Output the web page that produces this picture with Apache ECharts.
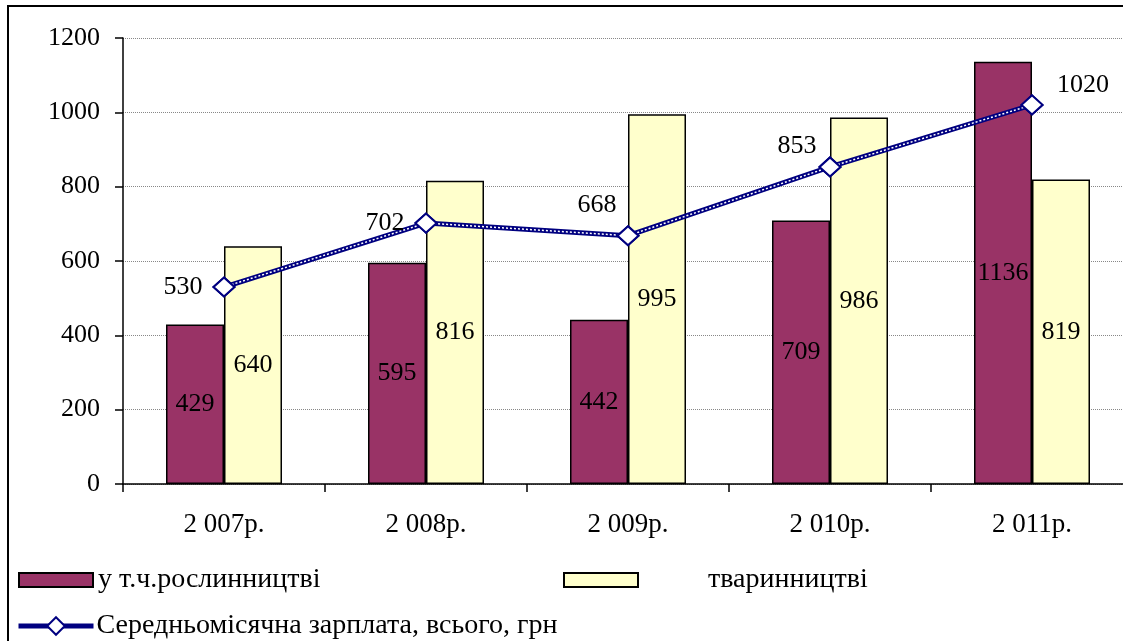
<!DOCTYPE html>
<html>
<head>
<meta charset="utf-8">
<script src="https://cdn.jsdelivr.net/npm/echarts@6/dist/echarts.min.js"></script>
<style>
  html, body { margin: 0; padding: 0; background: #fff; }
  #chart { width: 1123px; height: 641px; }
</style>
</head>
<body>
<div id="chart"></div>
<script>
const years = ['2 007р.', '2 008р.', '2 009р.', '2 010р.', '2 011р.']
const plantWage = [429, 595, 442, 709, 1136]
const animalWage = [640, 816, 995, 986, 819]
const totalWage = [530, 702, 668, 853, 1020]
const yTicks = [0, 200, 400, 600, 800, 1000, 1200]

const font = 'Liberation Serif'
const fs = 26
const navy = '#000080'

// where each line label sits relative to its point (as in the original)
const lineLabelOffset = [[-41, 0], [-41, 0], [-31, -31], [-33, -21], [51, -20]]

const chart = echarts.init(document.getElementById('chart'))

const option = {
  backgroundColor: '#fff',
  animation: false,
  textStyle: { fontFamily: font, color: '#000' },
  graphic: [
    {
      type: 'rect',
      shape: { x: 8, y: 6, width: 1300, height: 800 },
      style: { fill: 'none', stroke: '#000', lineWidth: 2 },
      silent: true,
    },
  ],
  grid: { left: 123, top: 38, width: 1010, height: 446, outerBoundsMode: 'none' },
  legend: [
    {
      data: [{ name: 'у т.ч.рослинництві', icon: 'rect' }],
      left: 18, top: 566, padding: 0,
      itemWidth: 74, itemHeight: 14,
      textStyle: { fontFamily: font, fontSize: 28, color: '#000' },
    },
    {
      data: [{ name: 'тваринництві', icon: 'rect' }],
      left: 563, top: 566, padding: 0,
      itemWidth: 74, itemHeight: 14,
      textStyle: { fontFamily: font, fontSize: 28, color: '#000', padding: [0, 0, 0, 65] },
    },
    {
      data: ['Середньомісячна зарплата, всього, грн'],
      left: 16, top: 612, padding: 0,
      itemWidth: 75, itemHeight: 22,
      lineStyle: { color: navy, width: 5 },
      textStyle: { fontFamily: font, fontSize: 28, color: '#000', padding: [0, 0, 0, -2] },
    },
  ],
  xAxis: {
    type: 'category',
    data: years,
    axisLine: { lineStyle: { color: '#000', width: 1.5 } },
    axisTick: { show: true, alignWithLabel: false, length: 8, lineStyle: { color: '#000', width: 1.5 } },
    axisLabel: { fontFamily: font, fontSize: 27, color: '#000', margin: 27 },
  },
  yAxis: {
    type: 'value',
    min: yTicks[0],
    max: yTicks[yTicks.length - 1],
    interval: 200,
    axisLine: { show: true, lineStyle: { color: '#000', width: 1.5 } },
    axisTick: { show: true, length: 8, lineStyle: { color: '#000', width: 1.5 } },
    axisLabel: { fontFamily: font, fontSize: fs, color: '#000', margin: 23, formatter: (v) => String(v) },
    splitLine: { lineStyle: { color: '#888', type: 'dotted', width: 1 } },
  },
  series: [
    {
      name: 'у т.ч.рослинництві',
      type: 'bar',
      data: plantWage,
      barWidth: 58,
      barGap: '0%',
      itemStyle: { color: '#993366', borderColor: '#000', borderWidth: 1.5 },
      label: { show: true, position: 'inside', fontFamily: font, fontSize: fs, color: '#000' },
    },
    {
      name: 'тваринництві',
      type: 'bar',
      data: animalWage,
      barWidth: 58,
      barGap: '0%',
      itemStyle: { color: '#FFFFCC', borderColor: '#000', borderWidth: 1.5 },
      label: { show: true, position: 'inside', fontFamily: font, fontSize: fs, color: '#000' },
    },
    {
      name: 'Середньомісячна зарплата, всього, грн',
      type: 'line',
      data: totalWage.map((v, i) => ({
        value: v,
        label: { position: 'inside', offset: lineLabelOffset[i] },
      })),
      symbol: 'diamond',
      symbolSize: [21, 19],
      lineStyle: { color: navy, width: 5 },
      itemStyle: { color: '#fff', borderColor: navy, borderWidth: 2 },
      label: { show: true, fontFamily: font, fontSize: fs, color: '#000' },
      z: 3,
    },
    {
      // white stitch inside the navy line
      name: 'stitch',
      type: 'line',
      data: totalWage,
      symbol: 'none',
      lineStyle: { color: '#fff', width: 1.5, type: [2, 2] },
      silent: true,
      z: 4,
    },
    {
      // markers drawn again on top of the stitch
      name: 'marks',
      type: 'line',
      data: totalWage,
      symbol: 'diamond',
      symbolSize: [21, 19],
      lineStyle: { width: 0, opacity: 0 },
      itemStyle: { color: '#fff', borderColor: navy, borderWidth: 2 },
      silent: true,
      z: 5,
    },
  ],
}

chart.setOption(option)
</script>
</body>
</html>
